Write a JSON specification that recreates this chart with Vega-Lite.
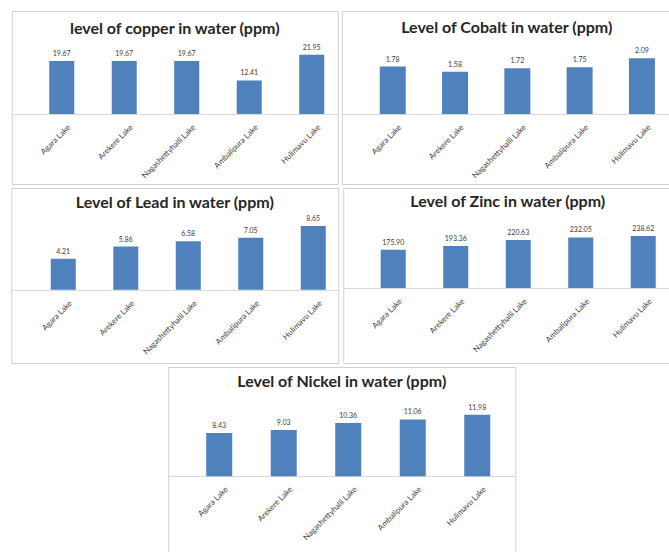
{
  "$schema": "https://vega.github.io/schema/vega-lite/v6.json",
  "padding": {"left": 10, "top": 10, "right": 0, "bottom": 0},
  "background": "white",
  "data": {
    "values": [
      {"metal": "copper", "lake": "Agara Lake", "value": 19.67},
      {"metal": "copper", "lake": "Arekere Lake", "value": 19.67},
      {"metal": "copper", "lake": "Nagashettyhalli Lake", "value": 19.67},
      {"metal": "copper", "lake": "Ambalipura Lake", "value": 12.41},
      {"metal": "copper", "lake": "Hulimavu Lake", "value": 21.95},
      {"metal": "cobalt", "lake": "Agara Lake", "value": 1.78},
      {"metal": "cobalt", "lake": "Arekere Lake", "value": 1.58},
      {"metal": "cobalt", "lake": "Nagashettyhalli Lake", "value": 1.72},
      {"metal": "cobalt", "lake": "Ambalipura Lake", "value": 1.75},
      {"metal": "cobalt", "lake": "Hulimavu Lake", "value": 2.09},
      {"metal": "lead", "lake": "Agara Lake", "value": 4.21},
      {"metal": "lead", "lake": "Arekere Lake", "value": 5.86},
      {"metal": "lead", "lake": "Nagashettyhalli Lake", "value": 6.58},
      {"metal": "lead", "lake": "Ambalipura Lake", "value": 7.05},
      {"metal": "lead", "lake": "Hulimavu Lake", "value": 8.65},
      {"metal": "zinc", "lake": "Agara Lake", "value": 175.90},
      {"metal": "zinc", "lake": "Arekere Lake", "value": 193.36},
      {"metal": "zinc", "lake": "Nagashettyhalli Lake", "value": 220.63},
      {"metal": "zinc", "lake": "Ambalipura Lake", "value": 232.05},
      {"metal": "zinc", "lake": "Hulimavu Lake", "value": 238.62},
      {"metal": "nickel", "lake": "Agara Lake", "value": 8.43},
      {"metal": "nickel", "lake": "Arekere Lake", "value": 9.03},
      {"metal": "nickel", "lake": "Nagashettyhalli Lake", "value": 10.36},
      {"metal": "nickel", "lake": "Ambalipura Lake", "value": 11.06},
      {"metal": "nickel", "lake": "Hulimavu Lake", "value": 11.98}
    ]
  },
  "spacing": 2,
  "center": true,
  "vconcat": [
    {
      "spacing": 2,
      "hconcat": [
        {
          "width": 326, "height": 173,
          "title": {"text": "level of copper in water (ppm)", "offset": -26},
          "transform": [{"filter": "datum.metal === 'copper'"}],
          "encoding": {
            "x": {"field": "lake", "type": "nominal", "sort": null,
                  "scale": {"paddingInner": 0.6, "paddingOuter": 0.408, "align": 0.735},
                  "axis": {"offset": -70}},
            "y": {"field": "value", "type": "quantitative",
                  "scale": {"domain": [-26.0, 38.2], "nice": false}, "axis": null}
          },
          "layer": [
            {"mark": {"type": "bar", "color": "#4F81BD"}, "encoding": {"y2": {"datum": 0}}},
            {"mark": {"type": "text", "baseline": "bottom", "dy": -4, "fontSize": 7, "color": "#404040", "font": "Lato"},
             "encoding": {"text": {"field": "value", "type": "quantitative", "format": ".2f"}}}
          ]
        },
        {
          "width": 330, "height": 173,
          "title": {"text": "Level of Cobalt in water (ppm)", "offset": -25},
          "transform": [{"filter": "datum.metal === 'cobalt'"}],
          "encoding": {
            "x": {"field": "lake", "type": "nominal", "sort": null,
                  "scale": {"paddingInner": 0.583, "paddingOuter": 0.44, "align": 0.693},
                  "axis": {"offset": -70}},
            "y": {"field": "value", "type": "quantitative",
                  "scale": {"domain": [-2.62, 3.86], "nice": false}, "axis": null}
          },
          "layer": [
            {"mark": {"type": "bar", "color": "#4F81BD"}, "encoding": {"y2": {"datum": 0}}},
            {"mark": {"type": "text", "baseline": "bottom", "dy": -4, "fontSize": 7, "color": "#404040", "font": "Lato"},
             "encoding": {"text": {"field": "value", "type": "quantitative", "format": ".2f"}}}
          ]
        }
      ]
    },
    {
      "spacing": 3,
      "hconcat": [
        {
          "width": 327, "height": 175,
          "title": {"text": "Level of Lead in water (ppm)", "offset": -23},
          "transform": [{"filter": "datum.metal === 'lead'"}],
          "encoding": {
            "x": {"field": "lake", "type": "nominal", "sort": null,
                  "scale": {"paddingInner": 0.6, "paddingOuter": 0.416, "align": 0.76},
                  "axis": {"offset": -73}},
            "y": {"field": "value", "type": "quantitative",
                  "scale": {"domain": [-9.96, 13.82], "nice": false}, "axis": null}
          },
          "layer": [
            {"mark": {"type": "bar", "color": "#4F81BD"}, "encoding": {"y2": {"datum": 0}}},
            {"mark": {"type": "text", "baseline": "bottom", "dy": -4, "fontSize": 7, "color": "#404040", "font": "Lato"},
             "encoding": {"text": {"field": "value", "type": "quantitative", "format": ".2f"}}}
          ]
        },
        {
          "width": 329, "height": 175,
          "title": {"text": "Level of Zinc in water (ppm)", "offset": -22},
          "transform": [{"filter": "datum.metal === 'zinc'"}],
          "encoding": {
            "x": {"field": "lake", "type": "nominal", "sort": null,
                  "scale": {"paddingInner": 0.6, "paddingOuter": 0.432, "align": 0.694},
                  "axis": {"offset": -75}},
            "y": {"field": "value", "type": "quantitative",
                  "scale": {"domain": [-344.5, 459.3], "nice": false}, "axis": null}
          },
          "layer": [
            {"mark": {"type": "bar", "color": "#4F81BD"}, "encoding": {"y2": {"datum": 0}}},
            {"mark": {"type": "text", "baseline": "bottom", "dy": -4, "fontSize": 7, "color": "#404040", "font": "Lato"},
             "encoding": {"text": {"field": "value", "type": "quantitative", "format": ".2f"}}}
          ]
        }
      ]
    },
    {
      "width": 347, "height": 189,
      "title": {"text": "Level of Nickel in water (ppm)", "offset": -23},
      "transform": [{"filter": "datum.metal === 'nickel'"}],
      "encoding": {
        "x": {"field": "lake", "type": "nominal", "sort": null,
              "scale": {"paddingInner": 0.597, "paddingOuter": 0.488, "align": 0.603},
              "axis": {"offset": -80}},
        "y": {"field": "value", "type": "quantitative",
              "scale": {"domain": [-15.5, 21.27], "nice": false}, "axis": null}
      },
      "layer": [
        {"mark": {"type": "bar", "color": "#4F81BD"}, "encoding": {"y2": {"datum": 0}}},
        {"mark": {"type": "text", "baseline": "bottom", "dy": -4, "fontSize": 7, "color": "#404040", "font": "Lato"},
         "encoding": {"text": {"field": "value", "type": "quantitative", "format": ".2f"}}}
      ]
    }
  ],
  "config": {
    "view": {"stroke": "#d0d0d0", "strokeWidth": 1},
    "title": {"font": "Lato", "fontSize": 16, "fontWeight": "bold", "color": "#262626", "anchor": "middle", "baseline": "middle"},
    "axisX": {
      "title": null,
      "labelAngle": -45,
      "labelFont": "Lato",
      "labelFontSize": 8,
      "labelColor": "#404040",
      "labelPadding": 9,
      "labelOffset": 5,
      "ticks": false,
      "domainColor": "#d9d9d9",
      "grid": false
    }
  }
}
